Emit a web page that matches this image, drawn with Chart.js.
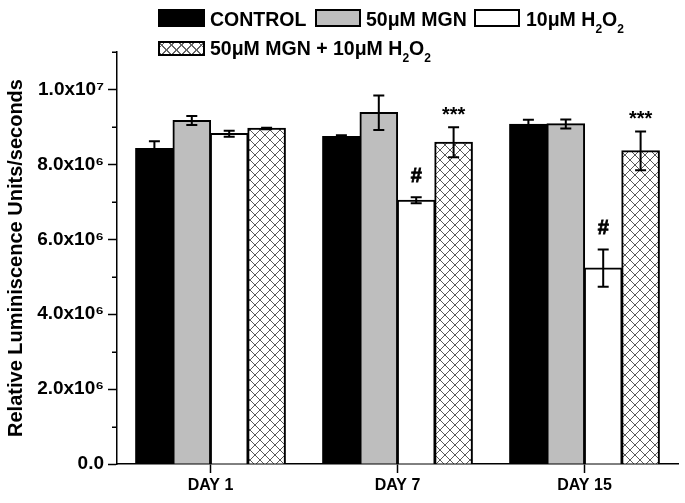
<!DOCTYPE html>
<html>
<head>
<meta charset="utf-8">
<script src="https://cdn.jsdelivr.net/npm/chart.js@4/dist/chart.umd.min.js"></script>
<style>
  html, body { margin: 0; padding: 0; background: #fff; }
  #wrap { position: relative; width: 685px; height: 503px; font-family: 'Liberation Sans', Arial, sans-serif; font-weight: bold; color: #000; }
  canvas { position: absolute; left: 0; top: 0; }
  .lg-box { position: absolute; box-sizing: border-box; border: 2px solid #000; }
  .lg-text { position: absolute; font-size: 19.5px; line-height: 20px; white-space: nowrap; }
  .lg-text sub { font-size: 12px; vertical-align: -7px; line-height: 0; }
  .hatch { background-color: #fff;
    background-image: repeating-linear-gradient(45deg, #666 0 1px, transparent 1px 7px),
                      repeating-linear-gradient(-45deg, #666 0 1px, transparent 1px 7px); }
</style>
</head>
<body>
<div id="wrap">
  <canvas id="c" width="685" height="503"></canvas>
  <div class="lg-box" style="left:158px;top:9px;width:47px;height:18px;background:#000;"></div>
  <div class="lg-text" style="left:210px;top:9px;">CONTROL</div>
  <div class="lg-box" style="left:315px;top:9px;width:46px;height:18px;background:#bebebe;"></div>
  <div class="lg-text" style="left:366px;top:9px;">50μM MGN</div>
  <div class="lg-box" style="left:474px;top:9px;width:46px;height:18px;background:#fff;"></div>
  <div class="lg-text" style="left:526px;top:9px;">10μM H<sub>2</sub>O<sub>2</sub></div>
  <div class="lg-box hatch" style="left:158px;top:41px;width:47px;height:15px;"></div>
  <div class="lg-text" style="left:210px;top:38px;">50μM MGN + 10μM H<sub>2</sub>O<sub>2</sub></div>
</div>
<script>
// ---- data ----
const categories = ['DAY 1', 'DAY 7', 'DAY 15'];
const seriesNames = ['CONTROL', '50μM MGN', '10μM H₂O₂', '50μM MGN + 10μM H₂O₂'];
const controlValues = [8.42e6, 8.74e6, 9.07e6];
const controlErrors = [0.20e6, 0.04e6, 0.12e6];
const mgnValues = [9.17e6, 9.38e6, 9.08e6];
const mgnErrors = [0.12e6, 0.46e6, 0.12e6];
const h2o2Values = [8.82e6, 7.04e6, 5.23e6];
const h2o2Errors = [0.08e6, 0.08e6, 0.50e6];
const comboValues = [8.96e6, 8.59e6, 8.36e6];
const comboErrors = [0.02e6, 0.40e6, 0.52e6];
const h2o2Marks = ['', '#', '#'];
const comboMarks = ['', '***', '***'];
const yTickValues = [0, 2e6, 4e6, 6e6, 8e6, 1e7];
const yTickLabels = ['0.0', '2.0x10⁶', '4.0x10⁶', '6.0x10⁶', '8.0x10⁶', '1.0x10⁷'];
const yTitle = 'Relative Luminiscence Units/seconds';

const FONT = "'Liberation Sans', Arial, sans-serif";

function makeHatch(ctx) {
  const c = document.createElement('canvas');
  c.width = 10; c.height = 10;
  const g = c.getContext('2d');
  g.fillStyle = '#fff'; g.fillRect(0, 0, 10, 10);
  g.strokeStyle = '#5a5a5a'; g.lineWidth = 1;
  g.beginPath();
  for (let k = -1; k <= 1; k++) {
    g.moveTo(-1, -1 + 10 * k); g.lineTo(11, 11 + 10 * k);
    g.moveTo(11, -1 + 10 * k); g.lineTo(-1, 11 + 10 * k);
  }
  g.stroke();
  return ctx.createPattern(c, 'repeat');
}

const errorBarPlugin = {
  id: 'errorBars',
  afterDatasetsDraw(chart) {
    const ctx = chart.ctx, y = chart.scales.y;
    chart.data.datasets.forEach((ds, i) => {
      const meta = chart.getDatasetMeta(i);
      meta.data.forEach((bar, j) => {
        const v = ds.data[j], e = ds.errors[j];
        const yTop = y.getPixelForValue(v + e), yBot = y.getPixelForValue(v - e);
        const x = bar.x;
        ctx.save();
        ctx.strokeStyle = '#000'; ctx.lineWidth = 2;
        ctx.beginPath();
        ctx.moveTo(x, yTop); ctx.lineTo(x, yBot);
        ctx.moveTo(x - 5.5, yTop); ctx.lineTo(x + 5.5, yTop);
        ctx.moveTo(x - 5.5, yBot); ctx.lineTo(x + 5.5, yBot);
        ctx.stroke();
        const m = ds.marks ? ds.marks[j] : '';
        if (m) {
          ctx.fillStyle = '#000';
          ctx.strokeStyle = '#000';
          ctx.lineWidth = 0.8;
          ctx.textAlign = 'center';
          ctx.textBaseline = 'alphabetic';
          if (m === '#') { ctx.font = 'bold 20px ' + FONT; ctx.fillText(m, x, yTop - 15); ctx.strokeText(m, x, yTop - 15); }
          else { ctx.font = 'bold 20px ' + FONT; ctx.fillText(m, x, yTop - 6); }
        }
        ctx.restore();
      });
    });
  },
  afterDraw(chart) {
    const ctx = chart.ctx, y = chart.scales.y, left = chart.chartArea.left;
    ctx.save();
    ctx.strokeStyle = '#000'; ctx.lineWidth = 1.5;
    ctx.beginPath();
    y.ticks.forEach(t => {
      if (yTickValues.indexOf(t.value) === -1) {
        const py = Math.round(y.getPixelForValue(t.value)) + 0.25;
        ctx.moveTo(left - 5, py); ctx.lineTo(left, py);
      }
    });
    ctx.stroke();
    ctx.restore();
  }
};

const canvas = document.getElementById('c');
const ctx = canvas.getContext('2d');
const hatch = makeHatch(ctx);

new Chart(ctx, {
  type: 'bar',
  data: {
    labels: categories,
    datasets: [
      { label: seriesNames[0], data: controlValues, errors: controlErrors, backgroundColor: '#000', borderColor: '#000', borderWidth: 2 },
      { label: seriesNames[1], data: mgnValues, errors: mgnErrors, backgroundColor: '#bebebe', borderColor: '#000', borderWidth: 2 },
      { label: seriesNames[2], data: h2o2Values, errors: h2o2Errors, marks: h2o2Marks, backgroundColor: '#fff', borderColor: '#000', borderWidth: 2 },
      { label: seriesNames[3], data: comboValues, errors: comboErrors, marks: comboMarks, backgroundColor: hatch, borderColor: '#000', borderWidth: 2 }
    ]
  },
  options: {
    responsive: false,
    animation: false,
    devicePixelRatio: 1,
    layout: { padding: { top: 52, right: 7, bottom: 0, left: 0 } },
    datasets: { bar: { categoryPercentage: 0.8, barPercentage: 1.0, inflateAmount: 0.6 } },
    plugins: { legend: { display: false }, tooltip: { enabled: false } },
    scales: {
      x: {
        grid: { offset: false, drawOnChartArea: false, tickLength: 9, tickWidth: 1.5, tickColor: '#000' },
        border: { display: true, color: '#000', width: 1.5 },
        ticks: { color: '#000', padding: 3, font: { family: FONT, size: 16, weight: 'bold' } },
        afterFit(scale) { scale.height = 39; }
      },
      y: {
        min: 0, max: 1.1e7,
        grid: { drawOnChartArea: false, tickLength: 9, tickWidth: 1.5,
                tickColor: c => (yTickValues.indexOf(c.tick.value) !== -1 ? '#000' : 'rgba(0,0,0,0)') },
        border: { display: true, color: '#000', width: 1.5 },
        ticks: {
          stepSize: 1e6, includeBounds: true, color: '#000', padding: 4,
          font: { family: FONT, size: 19, weight: 'bold' },
          callback: v => { const i = yTickValues.indexOf(v); return i === -1 ? '' : yTickLabels[i]; }
        },
        title: { display: true, text: yTitle, color: '#000', padding: { top: 4, bottom: 4 },
                 font: { family: FONT, size: 20, weight: 'bold' } },
        afterFit(scale) { scale.width = 117; }
      }
    }
  },
  plugins: [errorBarPlugin]
});
</script>
</body>
</html>
